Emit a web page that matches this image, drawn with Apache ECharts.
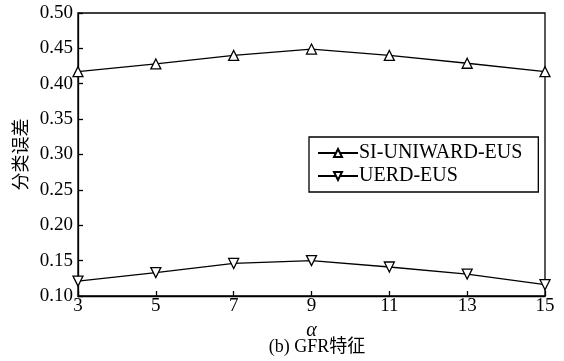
<!DOCTYPE html>
<html>
<head>
<meta charset="utf-8">
<script src="https://cdn.jsdelivr.net/npm/echarts@6/dist/echarts.min.js"></script>
<style>
  html, body { margin: 0; padding: 0; background: #fff; }
  #chart { width: 564px; height: 361px; }
</style>
</head>
<body>
<div id="chart"></div>
<script>
// α values on the x axis
const alphas = [3, 5, 7, 9, 11, 13, 15];
// classification error per α
const siUniwardEus = [0.417, 0.428, 0.440, 0.449, 0.440, 0.429, 0.417];
const uerdEus = [0.121, 0.133, 0.146, 0.150, 0.141, 0.131, 0.116];
const yTicks = [0.10, 0.15, 0.20, 0.25, 0.30, 0.35, 0.40, 0.45, 0.50];

const serif = '"Liberation Serif", "Times New Roman", serif';
const chart = echarts.init(document.getElementById('chart'), null, { renderer: 'canvas' });

function lineSeries(name, values, rotate) {
  return {
    name: name,
    type: 'line',
    data: alphas.map((a, i) => [a, values[i]]),
    symbol: 'triangle',
    symbolSize: 10,
    symbolRotate: rotate,
    lineStyle: { color: '#000', width: 1.3 },
    itemStyle: { color: '#fff', borderColor: '#000', borderWidth: 1.3 },
    emphasis: { disabled: true },
    animation: false,
    z: 3
  };
}

chart.setOption({
  backgroundColor: '#fff',
  animation: false,
  title: {
    text: '(b) GFR特征',
    left: 312, top: 333, textAlign: 'center',
    textStyle: { fontFamily: serif + ', "Noto Sans CJK SC"', fontSize: 18, fontWeight: 'normal', color: '#000' }
  },
  grid: { left: 78, right: 19, top: 13, bottom: 65, show: true, borderColor: '#000', borderWidth: 1.3 },
  legend: {
    left: 309, top: 137,
    orient: 'vertical',
    itemGap: 3,
    itemWidth: 40, itemHeight: 10,
    padding: [6, 16, 6, 8],
    borderColor: '#000', borderWidth: 1.3,
    backgroundColor: '#fff',
    textStyle: { fontFamily: serif, fontSize: 20, color: '#000', padding: [0, 0, 0, -4] },
    data: ['SI-UNIWARD-EUS', 'UERD-EUS']
  },
  xAxis: {
    type: 'value',
    min: 3, max: 15, interval: 2,
    name: 'α', nameLocation: 'middle', nameGap: 19,
    nameTextStyle: { fontFamily: serif, fontStyle: 'italic', fontSize: 20, color: '#000' },
    axisLine: { lineStyle: { color: '#000', width: 1.3 } },
    axisTick: { inside: true, length: 5, lineStyle: { color: '#000', width: 1.3 } },
    axisLabel: { fontFamily: serif, fontSize: 19, color: '#000', margin: 1 },
    splitLine: { show: false }
  },
  yAxis: {
    type: 'value',
    min: 0.10, max: 0.50, interval: 0.05,
    name: '分类误差', nameLocation: 'middle', nameGap: 46, nameRotate: 90,
    nameTextStyle: { fontFamily: '"Noto Sans CJK SC"', fontSize: 18, color: '#000' },
    axisLine: { lineStyle: { color: '#000', width: 1.3 } },
    axisTick: { inside: true, length: 5, lineStyle: { color: '#000', width: 1.3 } },
    axisLabel: {
      fontFamily: serif, fontSize: 19, color: '#000', margin: 5,
      formatter: v => yTicks.find(t => Math.abs(t - v) < 1e-9).toFixed(2)
    },
    splitLine: { show: false }
  },
  series: [
    lineSeries('SI-UNIWARD-EUS', siUniwardEus, 0),
    lineSeries('UERD-EUS', uerdEus, 180)
  ]
});
</script>
</body>
</html>
